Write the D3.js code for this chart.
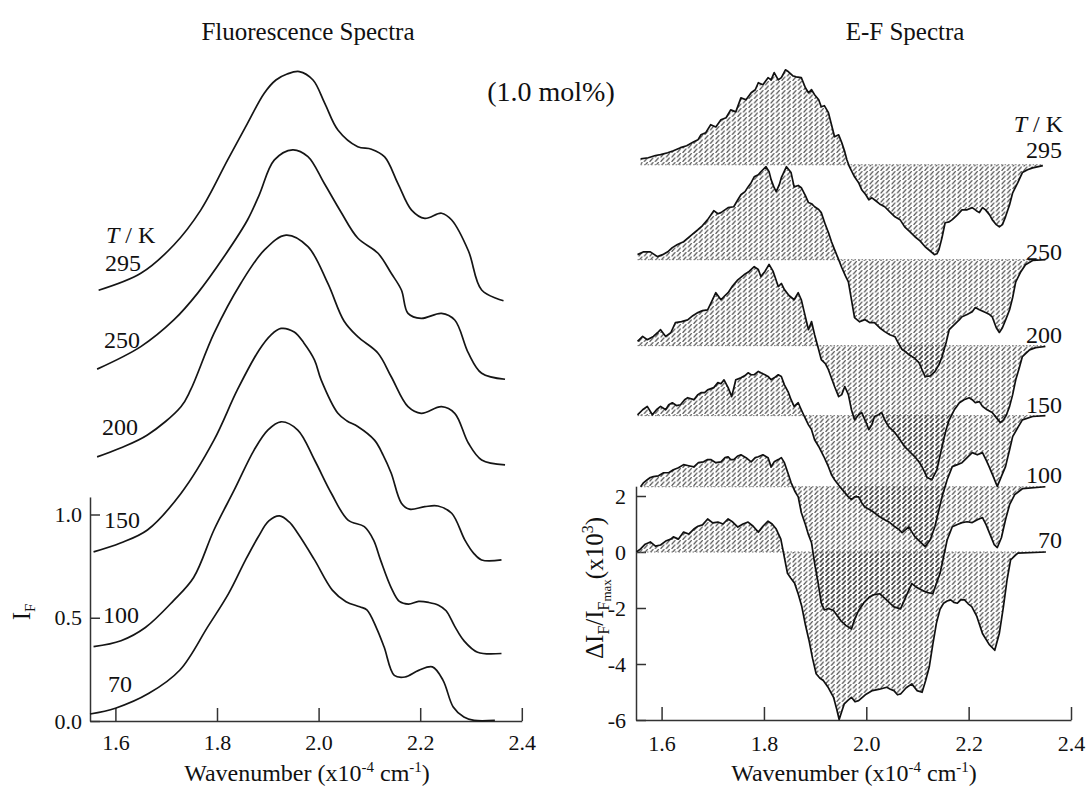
<!DOCTYPE html>
<html>
<head>
<meta charset="utf-8">
<script src="https://cdn.jsdelivr.net/npm/d3@7"></script>
<style>
  body { margin: 0; background: #fff; }
  text { font-family: "Liberation Serif", "Times New Roman", serif; fill: #111; }
</style>
</head>
<body>
<svg id="chart" width="1089" height="792"></svg>
<script>
// ---- data ----
var temps = ["70", "100", "150", "200", "250", "295"];
var xTicks = [1.6, 1.8, 2.0, 2.2, 2.4];
var flTicks = [0, 0.5, 1.0];
var efTicks = [-6, -4, -2, 0, 2];

// fluorescence intensity (normalised) and stacking offsets
var flOffsets = [0, 0.327, 0.780, 1.240, 1.655, 2.035];
var fl70 = [[1.550,0.034],[1.600,0.062],[1.666,0.134],[1.727,0.247],[1.782,0.457],[1.823,0.618],[1.856,0.779],[1.881,0.891],[1.902,0.969],[1.923,0.993],[1.942,0.964],[1.959,0.909],[1.992,0.780],[2.027,0.634],[2.054,0.578],[2.081,0.553],[2.095,0.538],[2.114,0.450],[2.129,0.358],[2.149,0.221],[2.170,0.213],[2.197,0.245],[2.224,0.262],[2.245,0.197],[2.265,0.068],[2.286,0.019],[2.306,0.003],[2.347,0.003]];
var fl100 = [[1.557,0.033],[1.611,0.062],[1.659,0.126],[1.714,0.255],[1.754,0.368],[1.794,0.598],[1.834,0.792],[1.873,0.985],[1.900,1.082],[1.926,1.122],[1.959,1.082],[1.992,0.937],[2.025,0.776],[2.058,0.646],[2.090,0.614],[2.108,0.550],[2.122,0.452],[2.143,0.318],[2.159,0.252],[2.177,0.239],[2.197,0.252],[2.217,0.247],[2.236,0.234],[2.251,0.207],[2.268,0.131],[2.286,0.062],[2.313,0.006],[2.360,0.0]];
var fl150 = [[1.557,0.039],[1.610,0.082],[1.663,0.145],[1.729,0.322],[1.794,0.580],[1.840,0.823],[1.883,1.017],[1.906,1.089],[1.926,1.121],[1.952,1.104],[1.971,1.051],[1.992,0.968],[2.005,0.872],[2.038,0.710],[2.056,0.673],[2.077,0.646],[2.110,0.580],[2.127,0.508],[2.143,0.420],[2.163,0.275],[2.179,0.246],[2.209,0.258],[2.235,0.261],[2.262,0.226],[2.288,0.096],[2.305,0.033],[2.321,0.0],[2.360,0.0]];
var fl200 = [[1.564,0.039],[1.610,0.082],[1.663,0.145],[1.729,0.282],[1.748,0.363],[1.794,0.637],[1.847,0.880],[1.893,1.040],[1.936,1.113],[1.979,1.057],[2.018,0.880],[2.050,0.697],[2.077,0.621],[2.117,0.541],[2.143,0.427],[2.176,0.282],[2.202,0.250],[2.242,0.282],[2.268,0.250],[2.295,0.105],[2.321,0.024],[2.367,0.0]];
var fl250 = [[1.564,0.049],[1.650,0.158],[1.715,0.287],[1.762,0.417],[1.814,0.594],[1.860,0.771],[1.883,0.892],[1.913,1.062],[1.949,1.111],[1.979,1.078],[2.011,0.949],[2.044,0.810],[2.077,0.684],[2.117,0.610],[2.143,0.513],[2.163,0.432],[2.176,0.319],[2.202,0.295],[2.242,0.319],[2.268,0.287],[2.295,0.126],[2.321,0.029],[2.367,0.0]];
var fl295 = [[1.567,0.051],[1.650,0.133],[1.715,0.270],[1.768,0.439],[1.821,0.682],[1.860,0.859],[1.893,1.005],[1.916,1.069],[1.938,1.098],[1.962,1.110],[1.989,1.069],[2.012,0.957],[2.038,0.827],[2.077,0.746],[2.104,0.734],[2.130,0.697],[2.156,0.569],[2.183,0.439],[2.209,0.399],[2.242,0.424],[2.262,0.391],[2.295,0.241],[2.321,0.052],[2.364,0.0]];

// electric-field-induced change (x10^3) and stacking offsets
var efOffsets = [0, 2.33, 4.87, 7.37, 10.44, 13.83];
var ef70 = [[1.551,0.0],[1.559,0.11],[1.568,0.28],[1.578,0.36],[1.588,0.21],[1.598,0.25],[1.608,0.39],[1.618,0.46],[1.623,0.54],[1.633,0.46],[1.643,0.71],[1.653,0.64],[1.663,0.82],[1.671,0.92],[1.680,0.97],[1.690,1.18],[1.700,1.04],[1.710,1.07],[1.720,1.00],[1.730,1.18],[1.739,1.07],[1.749,0.89],[1.759,1.00],[1.769,1.07],[1.779,0.92],[1.789,0.71],[1.798,0.92],[1.808,1.10],[1.816,1.00],[1.824,0.82],[1.833,0.46],[1.846,-0.76],[1.853,-0.95],[1.860,-1.12],[1.867,-1.50],[1.874,-1.95],[1.881,-2.60],[1.888,-3.15],[1.895,-3.80],[1.902,-4.35],[1.909,-4.50],[1.916,-4.59],[1.926,-4.85],[1.936,-5.19],[1.942,-5.60],[1.947,-5.98],[1.952,-5.70],[1.957,-5.42],[1.964,-5.30],[1.971,-5.19],[1.978,-5.35],[1.985,-5.31],[1.998,-5.10],[2.012,-4.95],[2.026,-4.90],[2.040,-4.83],[2.047,-4.90],[2.054,-4.95],[2.061,-5.10],[2.067,-5.07],[2.078,-4.85],[2.089,-4.71],[2.099,-4.95],[2.109,-5.01],[2.116,-4.59],[2.123,-4.11],[2.130,-3.30],[2.137,-2.55],[2.144,-2.05],[2.151,-1.83],[2.158,-1.75],[2.165,-1.71],[2.171,-1.80],[2.178,-1.83],[2.185,-1.70],[2.192,-1.71],[2.199,-1.85],[2.206,-1.95],[2.216,-2.30],[2.227,-2.91],[2.240,-3.30],[2.251,-3.51],[2.260,-2.90],[2.268,-1.95],[2.275,-1.00],[2.282,-0.28],[2.296,-0.04],[2.351,0.0]];
var ef100 = [[1.559,0.0],[1.565,0.15],[1.572,0.25],[1.578,0.33],[1.584,0.36],[1.594,0.39],[1.604,0.50],[1.614,0.50],[1.623,0.61],[1.633,0.68],[1.643,0.79],[1.653,0.75],[1.663,0.71],[1.672,0.86],[1.682,0.89],[1.690,0.97],[1.696,0.97],[1.706,0.86],[1.716,0.89],[1.724,1.04],[1.730,1.07],[1.735,0.97],[1.741,0.97],[1.749,1.10],[1.755,1.14],[1.765,1.04],[1.775,0.89],[1.783,1.04],[1.789,1.07],[1.798,1.14],[1.808,1.04],[1.814,0.71],[1.820,0.89],[1.828,0.97],[1.834,1.04],[1.840,0.86],[1.848,0.43],[1.853,0.15],[1.861,-0.18],[1.867,-0.36],[1.873,-0.92],[1.881,-1.35],[1.887,-1.71],[1.893,-2.00],[1.899,-2.73],[1.906,-3.45],[1.912,-4.15],[1.918,-4.40],[1.926,-4.35],[1.936,-4.42],[1.943,-4.60],[1.950,-4.78],[1.960,-4.95],[1.971,-5.08],[1.978,-4.70],[1.985,-4.42],[1.995,-4.15],[2.006,-3.94],[2.016,-3.85],[2.026,-3.82],[2.040,-4.05],[2.054,-4.29],[2.067,-4.36],[2.078,-3.90],[2.089,-3.46],[2.099,-3.60],[2.109,-3.70],[2.120,-3.78],[2.130,-3.82],[2.137,-3.45],[2.144,-3.10],[2.151,-2.50],[2.158,-1.90],[2.168,-1.43],[2.178,-1.35],[2.187,-1.28],[2.197,-1.25],[2.207,-1.28],[2.217,-1.18],[2.227,-1.10],[2.234,-1.35],[2.242,-1.71],[2.250,-2.07],[2.256,-2.17],[2.264,-1.82],[2.272,-1.18],[2.280,-0.64],[2.290,-0.28],[2.305,-0.07],[2.350,0.0]];
var ef150 = [[1.553,0.03],[1.563,0.21],[1.572,0.33],[1.582,0.03],[1.590,0.21],[1.598,0.33],[1.608,0.21],[1.614,0.39],[1.621,0.46],[1.629,0.36],[1.637,0.39],[1.645,0.57],[1.651,0.64],[1.663,0.57],[1.671,0.75],[1.677,0.82],[1.684,0.82],[1.690,0.92],[1.702,1.00],[1.710,1.18],[1.716,1.14],[1.722,1.28],[1.730,1.00],[1.737,0.68],[1.745,1.28],[1.755,1.35],[1.763,1.43],[1.769,1.53],[1.775,1.46],[1.781,1.46],[1.789,1.58],[1.794,1.53],[1.802,1.46],[1.808,1.40],[1.814,1.28],[1.820,1.35],[1.828,1.46],[1.834,1.40],[1.840,1.10],[1.848,0.82],[1.853,0.57],[1.859,0.33],[1.867,0.46],[1.873,0.21],[1.879,-0.03],[1.887,-0.33],[1.893,-0.50],[1.899,-0.86],[1.907,-1.10],[1.917,-1.46],[1.926,-1.82],[1.932,-2.11],[1.938,-2.29],[1.948,-2.53],[1.958,-2.75],[1.965,-2.90],[1.971,-3.00],[1.977,-2.90],[1.985,-2.90],[1.991,-3.11],[1.997,-3.26],[2.007,-3.36],[2.016,-3.47],[2.026,-3.61],[2.036,-3.72],[2.046,-3.82],[2.056,-3.97],[2.064,-4.07],[2.070,-4.18],[2.077,-4.07],[2.083,-3.97],[2.089,-4.15],[2.095,-4.33],[2.105,-4.50],[2.115,-4.68],[2.125,-4.43],[2.134,-3.97],[2.142,-3.36],[2.148,-2.90],[2.158,-2.29],[2.168,-1.82],[2.178,-1.75],[2.187,-1.68],[2.197,-1.50],[2.207,-1.32],[2.217,-1.40],[2.227,-1.32],[2.234,-1.58],[2.240,-1.82],[2.248,-2.17],[2.256,-2.53],[2.264,-2.17],[2.272,-1.82],[2.280,-1.22],[2.286,-0.75],[2.296,-0.43],[2.305,-0.15],[2.325,-0.03],[2.350,0.0]];
var ef200 = [[1.553,0.15],[1.563,0.33],[1.572,0.21],[1.584,0.33],[1.592,0.46],[1.598,0.57],[1.608,0.33],[1.618,0.46],[1.627,0.82],[1.639,0.86],[1.651,0.92],[1.661,1.07],[1.671,1.18],[1.680,1.25],[1.690,1.28],[1.698,1.58],[1.706,1.89],[1.716,1.64],[1.724,1.79],[1.730,1.89],[1.739,2.14],[1.749,2.35],[1.761,2.53],[1.771,2.65],[1.781,2.82],[1.789,2.72],[1.794,2.47],[1.802,2.65],[1.810,2.90],[1.818,2.65],[1.828,2.11],[1.834,2.22],[1.840,2.00],[1.849,1.79],[1.859,1.64],[1.867,1.89],[1.873,1.64],[1.879,1.18],[1.887,0.57],[1.893,0.86],[1.899,0.39],[1.907,-0.15],[1.912,-0.50],[1.920,-0.64],[1.926,-0.86],[1.938,-1.46],[1.946,-1.82],[1.952,-1.75],[1.958,-1.46],[1.965,-1.75],[1.971,-2.29],[1.977,-2.65],[1.985,-2.47],[1.991,-2.39],[1.999,-2.72],[2.005,-3.00],[2.011,-2.82],[2.016,-2.53],[2.024,-2.47],[2.030,-2.39],[2.038,-2.72],[2.044,-2.90],[2.056,-3.11],[2.066,-3.36],[2.075,-3.61],[2.085,-3.79],[2.095,-3.97],[2.103,-4.15],[2.109,-4.33],[2.119,-4.71],[2.128,-4.79],[2.138,-4.43],[2.148,-3.61],[2.156,-3.00],[2.162,-2.65],[2.172,-2.29],[2.182,-2.04],[2.191,-1.93],[2.201,-1.86],[2.207,-1.93],[2.213,-2.04],[2.221,-2.00],[2.227,-2.17],[2.236,-2.29],[2.246,-2.39],[2.254,-2.57],[2.262,-2.75],[2.268,-2.65],[2.274,-2.47],[2.280,-2.17],[2.286,-1.75],[2.292,-1.22],[2.299,-0.79],[2.305,-0.39],[2.319,-0.15],[2.331,-0.07],[2.350,-0.03]];
var ef250 = [[1.553,0.18],[1.565,0.28],[1.578,0.28],[1.592,0.11],[1.602,0.18],[1.612,0.28],[1.621,0.43],[1.631,0.54],[1.643,0.64],[1.657,0.86],[1.671,1.07],[1.680,1.22],[1.690,1.43],[1.702,1.75],[1.710,1.64],[1.716,1.68],[1.730,1.86],[1.741,1.89],[1.749,2.14],[1.755,2.32],[1.763,2.43],[1.769,2.60],[1.775,2.75],[1.781,2.96],[1.789,3.03],[1.794,3.14],[1.804,3.32],[1.810,3.14],[1.814,2.86],[1.820,2.57],[1.824,2.43],[1.830,2.68],[1.834,2.93],[1.844,3.32],[1.853,3.11],[1.859,2.60],[1.867,2.65],[1.873,2.57],[1.881,2.29],[1.887,2.04],[1.893,2.00],[1.899,1.89],[1.907,1.79],[1.912,1.68],[1.920,1.25],[1.926,0.97],[1.932,0.64],[1.938,0.36],[1.946,0.0],[1.952,-0.28],[1.959,-0.57],[1.965,-0.79],[1.971,-1.43],[1.977,-2.07],[1.987,-2.22],[1.997,-2.14],[2.007,-2.25],[2.016,-2.25],[2.026,-2.43],[2.036,-2.57],[2.046,-2.68],[2.056,-2.75],[2.064,-3.03],[2.070,-3.21],[2.077,-3.29],[2.083,-3.39],[2.093,-3.50],[2.103,-3.68],[2.109,-3.93],[2.115,-4.18],[2.125,-4.15],[2.134,-4.00],[2.142,-3.75],[2.148,-3.47],[2.156,-2.96],[2.162,-2.50],[2.172,-2.32],[2.182,-2.14],[2.187,-2.04],[2.197,-1.96],[2.207,-1.86],[2.213,-1.71],[2.221,-1.79],[2.233,-1.89],[2.241,-1.96],[2.246,-2.04],[2.254,-2.43],[2.260,-2.60],[2.266,-2.43],[2.274,-2.07],[2.280,-1.79],[2.286,-1.35],[2.292,-0.79],[2.302,-0.43],[2.311,-0.18],[2.325,-0.03],[2.350,0.0]];
var ef295 = [[1.559,0.21],[1.574,0.25],[1.588,0.33],[1.598,0.36],[1.612,0.43],[1.623,0.50],[1.637,0.61],[1.649,0.68],[1.663,0.82],[1.671,0.89],[1.677,1.07],[1.686,1.14],[1.696,1.43],[1.706,1.35],[1.716,1.61],[1.726,1.68],[1.735,1.96],[1.745,1.89],[1.755,2.39],[1.765,2.32],[1.775,2.57],[1.783,2.68],[1.789,2.93],[1.798,2.86],[1.808,3.11],[1.814,3.03],[1.820,3.29],[1.828,3.03],[1.834,3.11],[1.842,3.39],[1.848,3.32],[1.856,3.18],[1.863,3.14],[1.873,3.11],[1.881,2.75],[1.887,2.57],[1.893,2.68],[1.899,2.50],[1.907,2.32],[1.912,2.07],[1.918,2.11],[1.926,1.86],[1.932,1.43],[1.938,1.00],[1.946,1.07],[1.952,0.79],[1.958,0.46],[1.962,0.18],[1.967,-0.07],[1.977,-0.43],[1.985,-0.64],[1.991,-0.89],[1.999,-1.07],[2.005,-1.25],[2.011,-1.18],[2.016,-1.25],[2.026,-1.40],[2.036,-1.50],[2.046,-1.68],[2.056,-1.86],[2.066,-1.96],[2.075,-2.22],[2.085,-2.39],[2.095,-2.57],[2.105,-2.72],[2.115,-2.93],[2.125,-3.08],[2.133,-3.21],[2.138,-3.18],[2.142,-3.03],[2.148,-2.60],[2.154,-2.07],[2.162,-2.04],[2.168,-1.96],[2.178,-1.79],[2.187,-1.61],[2.197,-1.61],[2.207,-1.53],[2.215,-1.64],[2.221,-1.71],[2.227,-1.53],[2.233,-1.61],[2.241,-1.79],[2.246,-1.96],[2.254,-2.14],[2.260,-2.22],[2.266,-2.14],[2.272,-1.86],[2.280,-1.43],[2.286,-1.00],[2.296,-0.64],[2.305,-0.28],[2.315,-0.18],[2.325,-0.11],[2.345,-0.03]];

var flSeries = [fl70, fl100, fl150, fl200, fl250, fl295];
var efSeries = [ef70, ef100, ef150, ef200, ef250, ef295];

// ---- layout ----
var svg = d3.select("#chart");

var xFl = d3.scaleLinear().domain([1.55, 2.4]).range([90, 521.8]);
var yFl = d3.scaleLinear().domain([0, 1]).range([721, 514.5]);
var xEf = d3.scaleLinear().domain([1.55, 2.4]).range([636, 1071]);
var yEf = d3.scaleLinear().domain([-6, 2]).range([720, 496]);

var flLabelPos = [[108, 692], [103, 623], [104, 528], [102, 435], [104, 348], [105, 271]];
var efLabelPos = [548, 483, 413, 343, 260, 158];

// hatch used for the E-F areas: short "/" dashes
var pat = svg.append("defs").append("pattern")
  .attr("id", "hatch")
  .attr("patternUnits", "userSpaceOnUse")
  .attr("width", 5.5)
  .attr("height", 4.5);
pat.append("line")
  .attr("x1", 0.9).attr("y1", 3.9)
  .attr("x2", 3.9).attr("y2", 0.6)
  .attr("stroke", "#333")
  .attr("stroke-width", 1.15)
  .attr("stroke-linecap", "round");

var styleAxis = function(g){
  g.select(".domain").attr("stroke", "#333").attr("stroke-width", 1.5);
  g.selectAll(".tick line").attr("stroke", "#333").attr("stroke-width", 1.5);
  g.selectAll(".tick text").attr("font-size", 22).attr("fill", "#111")
    .attr("font-family", "Liberation Serif, serif");
};

var drawAxes = function(x, y, ticks, yTop, yFormat, xPad, yPad){
  svg.append("g")
    .attr("transform", "translate(0," + y.range()[0] + ")")
    .call(d3.axisBottom(x).tickValues(xTicks).tickSize(-13).tickSizeOuter(0)
      .tickPadding(xPad).tickFormat(d3.format(".1f")))
    .call(styleAxis);
  var yAxisScale = y.copy().domain([y.domain()[0], yTop]).range([y.range()[0], y(yTop)]);
  svg.append("g")
    .attr("transform", "translate(" + x.range()[0] + ",0)")
    .call(d3.axisLeft(yAxisScale).tickValues(ticks)
      .tickSize(-10).tickSizeOuter(0).tickPadding(yPad).tickFormat(yFormat))
    .call(styleAxis);
};

var drawFluorescence = function(){
  var g = svg.append("g");
  flSeries.forEach(function(data, i){
    var off = flOffsets[i];
    var line = d3.line()
      .x(function(d){ return xFl(d[0]); })
      .y(function(d){ return yFl(d[1] + off); })
      .curve(d3.curveCatmullRom.alpha(0.5));
    g.append("path")
      .attr("d", line(data))
      .attr("fill", "none")
      .attr("stroke", "#151515")
      .attr("stroke-width", 1.7);
  });
  temps.forEach(function(t, i){
    svg.append("text").attr("x", flLabelPos[i][0]).attr("y", flLabelPos[i][1])
      .attr("font-size", 24).text(t);
  });
  var tk = svg.append("text").attr("x", 106).attr("y", 243).attr("font-size", 24);
  tk.append("tspan").attr("font-style", "italic").text("T");
  tk.append("tspan").text(" / K");
};

var drawEF = function(){
  var gA = svg.append("g");
  var gL = svg.append("g");
  efSeries.forEach(function(data, i){
    var off = efOffsets[i];
    var area = d3.area()
      .x(function(d){ return xEf(d[0]); })
      .y0(yEf(off))
      .y1(function(d){ return yEf(d[1] + off); });
    var line = d3.line()
      .x(function(d){ return xEf(d[0]); })
      .y(function(d){ return yEf(d[1] + off); });
    gA.append("path").attr("d", area(data)).attr("fill", "url(#hatch)");
    gA.append("line")
      .attr("x1", xEf(data[0][0])).attr("x2", xEf(data[data.length - 1][0]))
      .attr("y1", yEf(off)).attr("y2", yEf(off))
      .attr("stroke", "#777").attr("stroke-width", 1).attr("stroke-dasharray", "1.5,2");
    gL.append("path")
      .attr("d", line(data))
      .attr("fill", "none")
      .attr("stroke", "#111")
      .attr("stroke-width", 1.7)
      .attr("stroke-linejoin", "round");
  });
  temps.forEach(function(t, i){
    svg.append("text").attr("x", 1062).attr("y", efLabelPos[i])
      .attr("text-anchor", "end").attr("font-size", 24).text(t);
  });
  var tk = svg.append("text").attr("x", 1063).attr("y", 132)
    .attr("text-anchor", "end").attr("font-size", 24);
  tk.append("tspan").attr("font-style", "italic").text("T");
  tk.append("tspan").text(" / K");
};

var drawLabels = function(){
  svg.append("text").attr("x", 308).attr("y", 40).attr("text-anchor", "middle")
    .attr("font-size", 25).text("Fluorescence Spectra");
  svg.append("text").attr("x", 905).attr("y", 40).attr("text-anchor", "middle")
    .attr("font-size", 25).text("E-F Spectra");
  svg.append("text").attr("x", 551).attr("y", 101).attr("text-anchor", "middle")
    .attr("font-size", 28).text("(1.0 mol%)");

  [307, 854].forEach(function(cx){
    var t = svg.append("text").attr("x", cx).attr("y", 781)
      .attr("text-anchor", "middle").attr("font-size", 24);
    t.append("tspan").text("Wavenumber (x10");
    t.append("tspan").attr("font-size", 15).attr("dy", -9).text("-4");
    t.append("tspan").attr("dy", 9).text(" cm");
    t.append("tspan").attr("font-size", 15).attr("dy", -9).text("-1");
    t.append("tspan").attr("dy", 9).text(")");
  });

  var yl = svg.append("text").attr("transform", "translate(30,612) rotate(-90)")
    .attr("text-anchor", "middle").attr("font-size", 25);
  yl.append("tspan").text("I");
  yl.append("tspan").attr("font-size", 15).attr("dy", 5).text("F");

  var yr = svg.append("text").attr("transform", "translate(603,588) rotate(-90)")
    .attr("text-anchor", "middle").attr("font-size", 25);
  yr.append("tspan").text("ΔI");
  yr.append("tspan").attr("font-size", 16).attr("dy", 6).text("F");
  yr.append("tspan").attr("dy", -6).text("/I");
  yr.append("tspan").attr("font-size", 16).attr("dy", 6).text("F");
  yr.append("tspan").attr("font-size", 13).attr("dy", 2).text("max");
  yr.append("tspan").attr("dy", -8).text("(x10");
  yr.append("tspan").attr("font-size", 16).attr("dy", -10).text("3");
  yr.append("tspan").attr("dy", 10).text(")");
};

var renderChart = function(){
  drawAxes(xFl, yFl, flTicks, 1.085, d3.format(".1f"), 13, 8);
  // plain hyphen for negative ticks, as in the original figure
  drawAxes(xEf, yEf, efTicks, 2.35, function(d){ return String(d); }, 15, 10);
  drawFluorescence();
  drawEF();
  drawLabels();
};

renderChart();
</script>
</body>
</html>
